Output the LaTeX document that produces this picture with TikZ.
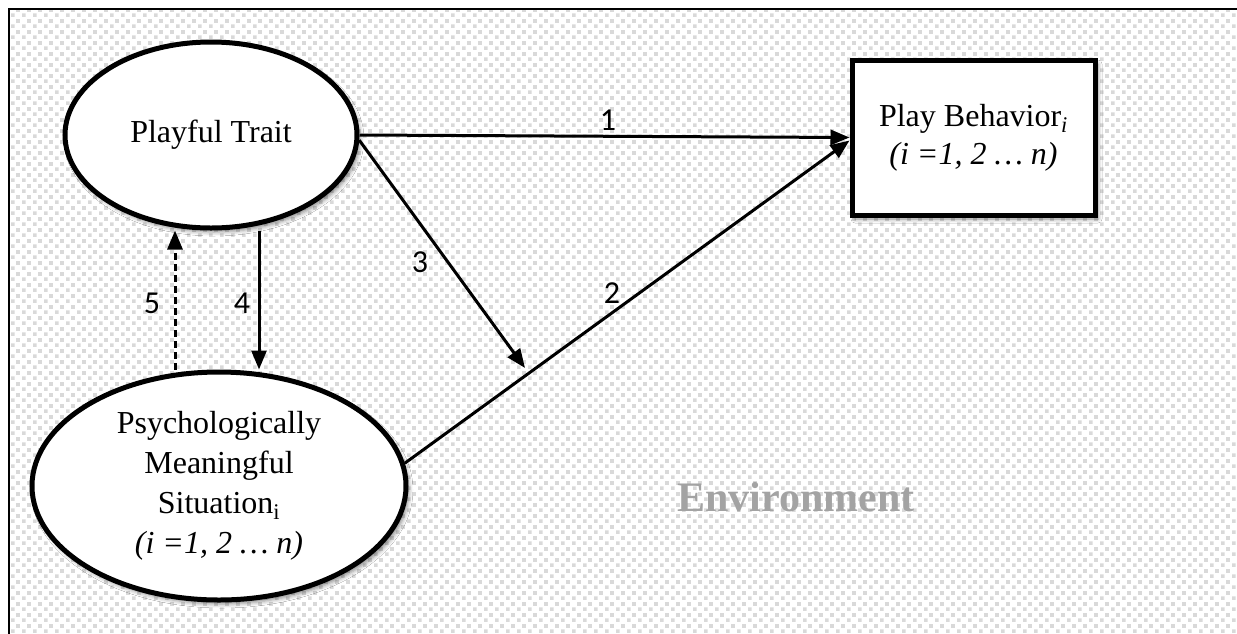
\documentclass[tikz,border=0pt]{standalone}
\usepackage{fontspec}
\setmainfont{Liberation Serif}
\newfontfamily\labelfont{Carlito}
\usetikzlibrary{arrows.meta,shapes.geometric,shadows.blur,patterns}
\pgfdeclarepatternformonly{bgcheck}{\pgfpointorigin}{\pgfpoint{10.6pt}{10.6pt}}{\pgfpoint{10.6pt}{10.6pt}}{%
  \pgfpathrectangle{\pgfpoint{0pt}{0pt}}{\pgfpoint{3.8pt}{3.8pt}}%
  \pgfpathrectangle{\pgfpoint{5.3pt}{5.3pt}}{\pgfpoint{3.8pt}{3.8pt}}%
  \pgfusepath{fill}}
\definecolor{envgray}{HTML}{A3A3A3}
\tikzset{
  shade/.style={blur shadow={shadow xshift=3pt, shadow yshift=-4pt, shadow blur radius=4pt, shadow opacity=45}},
  oval/.style={ellipse, draw=black, line width=5pt, fill=white, inner sep=0pt, align=center, shade,
    font=\fontsize{32}{40}\selectfont},
  boxnode/.style={rectangle, draw=black, line width=5pt, fill=white, inner sep=0pt, align=center, shade,
    font=\fontsize{32}{38}\selectfont},
  link/.style={line width=3pt, -{Triangle[length=19pt,width=15pt]}},
  num/.style={font=\labelfont\fontsize{32}{36}\selectfont, inner sep=0pt}
}
\begin{document}
\begin{tikzpicture}[x=1pt,y=-1pt]
\useasboundingbox (0,0) rectangle (1237,633);
\fill[white] (0,0) rectangle (1237,633);
\fill[pattern=bgcheck, pattern color=black!15] (9,9) rectangle (1237,633);
\draw[line width=2.5pt] (9,640) -- (9,9) -- (1245,9);

\node[oval, minimum width=292pt, minimum height=186pt] (pt) at (211,135) {Playful Trait};
\node[oval, minimum width=374pt, minimum height=228pt] (ps) at (219,486)
  {Psychologically\\Meaningful\\Situation\textsubscript{i}\\\textit{(i =1, 2 … n)}};
\node[boxnode, minimum width=243pt, minimum height=155pt] (pb) at (973.5,137.5)
  {Play Behavior\textsubscript{\textit{i}}\\\textit{(i =1, 2 … n)}};

\coordinate (m) at (525,368);

\draw[link] (pt.east) -- (pb.west);
\draw[link] (ps.7) -- ([yshift=-3pt]pb.west);
\draw[link] (pt.-2) -- (m);
\draw[link] ([xshift=48pt]pt.south) -- ([xshift=40pt]ps.north);
\draw[link, dash pattern=on 7pt off 4pt] ([xshift=-44pt]ps.north) -- ([xshift=-36pt]pt.south);

\node[num] (n1) at (608,120) {1};
\node[num] (n2) at (612,293) {2};
\node[num] (n3) at (420,262) {3};
\node[num] (n4) at (242,303) {4};
\node[num] (n5) at (152,303) {5};

\node[font=\fontsize{42}{48}\selectfont\bfseries, text=envgray] (env) at (796,497) {Environment};
\end{tikzpicture}
\end{document}
